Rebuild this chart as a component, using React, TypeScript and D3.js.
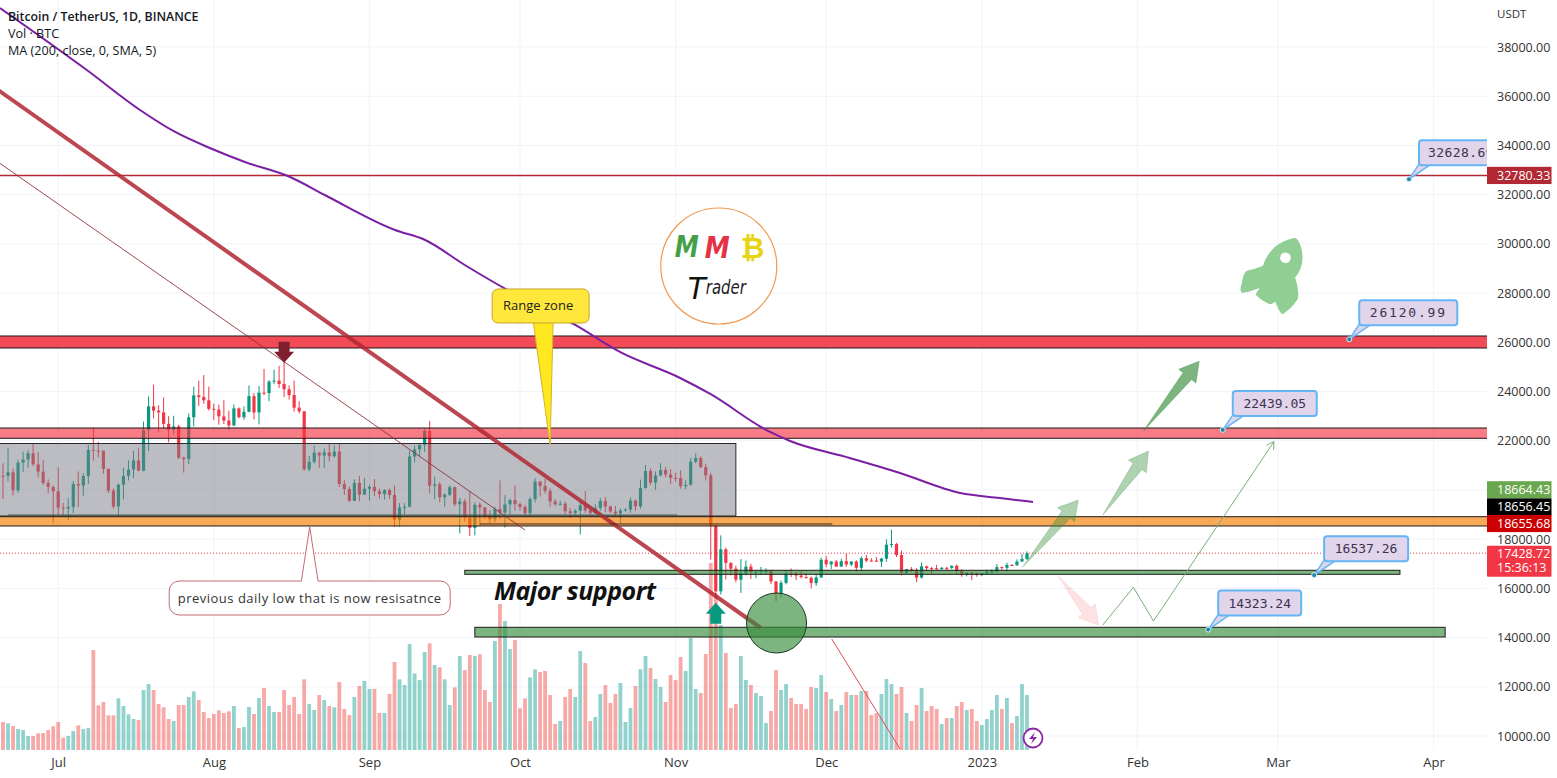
import React, { useEffect, useRef } from 'react';
import * as d3 from 'd3';

// bars are daily, index 0 = 20 Jun 2022, last = 10 Jan 2023
const opens = [
  20574, 20573, 20719, 19988, 21110, 21237, 21491, 21038, 20742, 20281, 20123,
  19942, 19279, 19243, 19315, 20236, 20175, 20564, 21624, 21594, 21592, 20857, 19970, 19329, 20212, 20570, 20825, 21198, 20781, 22432, 23396, 23223, 23152, 22684, 22451, 22579, 21310, 21254, 22952, 23843, 23774, 23643,
  23296, 23266, 22985, 22818, 22622, 23313, 22954, 23175, 23810, 23151, 23954, 23934, 24401, 24443, 24306, 24093, 23857, 23342, 23191, 20834, 21140, 21516, 21400, 21529, 21368, 21560, 20241, 20037, 19555, 20285, 19812,
  20049, 20127, 19953, 19832, 20000, 19796, 18790, 19292, 19320, 21361, 21648, 21826, 22395, 20173, 20227, 19701, 19803, 20112, 19417, 19538, 18875, 18461, 19401, 19288, 18921, 18810, 19226, 19080, 19411, 19590,
  19423, 19310, 19057, 19629, 20337, 20158, 19961, 19530, 19417, 19439, 19131, 19060, 19155, 19375, 19176, 19068, 19262, 19549, 19327, 19123, 19041, 19164, 19204, 19570, 19330, 20080, 20771, 20295, 20591, 20809, 20627,
  20491, 20483, 20151, 20207, 21148, 21299, 20925, 20590, 18541, 15880, 17586, 17034, 16799, 16353, 16618, 16884, 16664, 16680, 16698, 16711, 16280, 15781, 16226, 16603, 16599, 16522, 16458, 16428, 16212, 16442,
  17163, 16977, 17092, 16885, 17105, 16967, 17089, 16836, 17224, 17128, 17127, 17085, 17209, 17775, 17800, 17356, 16632, 16776, 16738, 16438, 16895, 16824, 16821, 16778, 16836, 16832, 16919, 16706, 16547, 16633, 16607,
  16542, 16616, 16673, 16674, 16863, 16836, 16951, 16943, 17091, 17196,
];
const highs = [
  21080, 21723, 20867, 21233, 21558, 21614, 21868, 21539, 21212, 20432, 20179,
  20918, 19471, 19665, 20354, 20750, 20675, 21839, 22527, 21950, 21597, 20868, 20060, 20259, 20900, 21200, 21588, 21684, 22777, 23800, 24276, 23442, 23756, 22998, 23014, 22652, 21347, 23112, 24199, 24442, 24668, 24194,
  23509, 23463, 23648, 23225, 23472, 23354, 23395, 24245, 23933, 24226, 24918, 24456, 24888, 25047, 25214, 24247, 24446, 23600, 23208, 21382, 21800, 21548, 21684, 21900, 21820, 21887, 20402, 20145, 20433, 20575, 20490,
  20208, 20445, 20055, 20029, 20057, 20180, 19464, 19458, 21600, 21810, 21860, 22488, 22799, 20541, 20330, 19870, 20189, 20135, 19686, 19635, 19956, 19500, 19500, 19310, 19180, 19315, 20385, 19790, 19645, 20185,
  19485, 19395, 19719, 20475, 20365, 20456, 20056, 19628, 19559, 19525, 19268, 19214, 19513, 19951, 19227, 19425, 19676, 19706, 19360, 19347, 19250, 19257, 19700, 19601, 20420, 21020, 20873, 20750, 21085, 20931, 20845,
  20700, 20800, 20393, 21302, 21480, 21365, 21069, 20700, 18590, 18154, 17650, 17059, 16920, 17190, 17130, 17000, 16740, 16870, 16820, 16750, 16300, 16315, 16750, 16812, 16666, 16700, 16600, 16482, 16550, 17250,
  17320, 17105, 17159, 17203, 17425, 17107, 17142, 17299, 17360, 17227, 17270, 17241, 17990, 18387, 17850, 17530, 16796, 16864, 16816, 17061, 16918, 16868, 16955, 16860, 16868, 16926, 16970, 16780, 16664, 16677, 16644,
  16628, 16759, 16777, 16991, 16886, 17041, 16982, 17176, 17398, 17500,
];
const lows = [
  19637, 20348, 19770, 19890, 20740, 20906, 20960, 20500, 20202, 19854, 18626,
  18975, 18977, 18781, 19055, 19304, 19761, 20240, 21189, 21322, 20652, 19875, 19240, 18910, 19616, 20383, 20480, 20755, 20762, 21580, 22906, 22341, 22500, 21934, 22257, 21250, 20706, 21042, 22582, 23414, 23502, 23227,
  22850, 22654, 22681, 22435, 22586, 22909, 22857, 23154, 22865, 22664, 23852, 23601, 24296, 24144, 23773, 23671, 23180, 23107, 20783, 20761, 21069, 20890, 20890, 21154, 21310, 20114, 19800, 19520, 19550, 19540, 19797,
  19565, 19750, 19655, 19600, 19635, 18510, 18510, 19011, 19291, 21111, 21360, 21538, 19860, 19617, 19497, 19320, 19748, 19335, 18232, 18711, 18125, 18150, 18531, 18817, 18629, 18680, 18816, 18471, 19015, 19155,
  19160, 18920, 18960, 19485, 19730, 19855, 19320, 19350, 19357, 19020, 18860, 18965, 18190, 19070, 18975, 19063, 19160, 19090, 19060, 18900, 18650, 19112, 19070, 19157, 19243, 20050, 20202, 20000, 20552, 20515, 20237,
  20330, 20048, 20031, 20180, 21080, 20886, 20384, 17166, 15588, 15750, 16361, 16526, 16250, 15815, 16527, 16384, 16410, 16551, 16559, 16170, 15480, 15625, 16160, 16458, 16342, 16400, 16400, 16000, 16100, 16430,
  16855, 16787, 16863, 16878, 16867, 16906, 16678, 16733, 17058, 17092, 17071, 16871, 17080, 17660, 17275, 16527, 16584, 16663, 16256, 16398, 16710, 16560, 16731, 16770, 16720, 16786, 16592, 16470, 16488, 16333, 16470,
  16499, 16548, 16605, 16652, 16759, 16679, 16909, 16908, 17081, 17150,
];
const closes = [
  20573, 20719, 19987, 21110, 21237, 21491, 21038, 20742, 20281, 20123, 19942,
  19279, 19243, 19315, 20236, 20175, 20564, 21624, 21594, 21592, 20857, 19970, 19329, 20212, 20570, 20825, 21198, 20781, 22432, 23396, 23223, 23152, 22684, 22451, 22579, 21310, 21254, 22952, 23843, 23774, 23643, 23293,
  23268, 22987, 22818, 22622, 23312, 22954, 23175, 23810, 23149, 23954, 23934, 24403, 24441, 24305, 24094, 23854, 23342, 23191, 20834, 21140, 21515, 21399, 21529, 21368, 21560, 20241, 20037, 19555, 20285, 19811, 20050,
  20127, 19953, 19832, 20000, 19796, 18790, 19292, 19319, 21360, 21648, 21826, 22395, 20173, 20226, 19701, 19803, 20113, 19416, 19537, 18875, 18461, 19401, 19288, 18920, 18807, 19227, 19079, 19412, 19591, 19422,
  19310, 19056, 19629, 20337, 20158, 19960, 19530, 19417, 19439, 19131, 19060, 19155, 19375, 19176, 19069, 19262, 19549, 19327, 19123, 19041, 19164, 19204, 19570, 19330, 20080, 20771, 20295, 20591, 20809, 20627, 20491,
  20483, 20151, 20207, 21148, 21299, 20925, 20590, 18541, 15880, 17586, 17034, 16799, 16353, 16618, 16884, 16664, 16680, 16698, 16711, 16280, 15781, 16226, 16603, 16599, 16522, 16458, 16428, 16212, 16442, 17163,
  16977, 17092, 16885, 17105, 16967, 17089, 16836, 17224, 17128, 17127, 17085, 17209, 17775, 17800, 17356, 16632, 16776, 16738, 16438, 16895, 16824, 16821, 16778, 16836, 16832, 16919, 16706, 16547, 16633, 16607, 16542,
  16616, 16673, 16674, 16863, 16836, 16951, 16943, 17091, 17196, 17429,
];
const volumes = [
  84, 80, 72, 63, 60, 42, 42, 50, 51, 60, 71,
  84, 37, 42, 57, 74, 63, 66, 300, 134, 144, 104, 104, 155, 132, 107, 93, 90, 180, 198, 180, 138, 128, 93, 87, 135, 135, 159, 176, 150, 114, 96,
  108, 119, 111, 116, 132, 66, 69, 129, 108, 156, 186, 132, 114, 114, 180, 135, 159, 108, 212, 138, 120, 165, 150, 132, 128, 204, 123, 105, 159, 192, 207,
  183, 183, 111, 111, 168, 264, 212, 195, 318, 230, 210, 294, 320, 255, 248, 212, 135, 188, 282, 240, 285, 282, 287, 180, 144, 327, 438, 387, 303, 330,
  125, 155, 218, 242, 234, 237, 165, 78, 87, 159, 183, 159, 297, 261, 87, 99, 168, 195, 141, 168, 201, 84, 126, 192, 242, 282, 246, 213, 189, 144, 225,
  210, 279, 237, 336, 183, 171, 288, 561, 470, 375, 291, 126, 138, 282, 210, 195, 171, 162, 81, 117, 240, 180, 198, 156, 138, 138, 123, 189, 186, 225,
  174, 153, 117, 135, 174, 165, 165, 177, 177, 105, 111, 168, 213, 198, 168, 189, 111, 87, 135, 186, 117, 132, 123, 78, 96, 96, 132, 144, 120, 123, 87,
  75, 93, 120, 165, 123, 156, 81, 102, 198, 165,
];

const gridPrices = [10000, 12000, 14000, 16000, 18000, 20000, 22000, 24000, 26000, 28000, 30000, 32000, 34000, 36000, 38000];
// 20000 sits under the stacked price labels, so it gets a grid line but no label
const priceTicks = [10000, 12000, 14000, 16000, 18000, 22000, 24000, 26000, 28000, 30000, 32000, 34000, 36000, 38000];
const monthTicks = [11, 42, 73, 103, 134, 164, 195, 226, 254, 285];
const monthLabels = ['Jul', 'Aug', 'Sep', 'Oct', 'Nov', 'Dec', '2023', 'Feb', 'Mar', 'Apr'];

// MA 200: [bar, price]
const maPoints: [number, number][] = [
  [-0.6, 39586], [16.7, 37066], [27.3, 35441], [34.3, 34547], [41.2, 33896], [48.2, 33327],
  [57.2, 32718], [64.1, 31986], [78.1, 30564], [84.1, 30157], [92, 29141], [103, 27841],
  [114, 26703], [122.9, 25606], [134.9, 24549], [140.9, 23899], [152.8, 22355], [156.8, 21989],
  [168.7, 21298], [178.7, 20688], [190.7, 19876], [198.6, 19672], [205.2, 19510],
];

// zones: from bar, to bar, top price, bottom price, colour, opacity
const zones: [number, number, number, number, string, number][] = [
  [-1, 300, 26256, 25768, '#f23645', 0.9],
  [-1, 300, 22517, 22098, '#f23645', 0.65],
  [-1, 300, 18912, 18535, '#f57c00', 0.65],
  [92, 278.3, 16734, 16571, '#388e3c', 0.65],
  [94, 287.3, 14418, 14023, '#388e3c', 0.65],
];

const grayBox = [-1, 146, 21887, 18941];
const resistance = 32780.33;

// trend lines: [bar, price, bar, price, colour, width, opacity]
const lines: [number, number, number, number, string, number, number][] = [
  [-1, 36253, 151, 14389, '#b22833', 4, 0.85],
  [-1, 33327, 104, 18372, '#8e2a33', 1, 0.85],
  [165.1, 13942, 178.7, 9472, '#e04a5a', 1, 1],
  [1, 18981, 134.3, 18981, '#4a5a4c', 1, 1],
  [95, 18616, 165.2, 18616, '#3a2a20', 1, 1],
];

// arrows: tail bar, tail price, tip bar, tip price, colour, opacity
const arrows: [number, number, number, number, string, number][] = [
  [203.1, 16856, 214.2, 19591, '#388e3c', 0.4],
  [219.1, 18981, 228.2, 21582, '#388e3c', 0.4],
  [227.2, 22395, 238.3, 25228, '#388e3c', 0.65],
  [210.2, 16502, 218.3, 14499, '#f23645', 0.15],
];

const pathPoints: [number, number][] = [[219.1, 14511], [225.2, 16043], [229.2, 14674], [253.2, 21960]];

// price callouts: anchor bar, price shown
const calloutBars = [280.1, 268.2, 243, 261.2, 240.1];
const calloutPrices = [32628.69, 26120.99, 22439.05, 16537.26, 14323.24];
const calloutWidths = [84, 98, 84, 84, 83];
const calloutSpacing = [0.4, 1.8, 0, 0, 0];

// labels on the price axis: value, offset from its price, fill
const axisLabels: [number, number, string][] = [
  [32780.33, 0, '#b22833'],
  [18664.43, -33, '#6aa84f'],
  [18656.45, -16, '#000000'],
  [18655.68, 0.5, '#cc0000'],
];
const lastPrice = 17428.72;
const countdown = '15:36:13';

const legend = ['Bitcoin / TetherUS, 1D, BINANCE', 'Vol · BTC', 'MA (200, close, 0, SMA, 5)'];

const W = 1557;
const H = 778;
const plotRight = 1487;
const volBase = 750;
const font = '"Open Sans", sans-serif';

const App: React.FC = () => {
  const svgRef = useRef<SVGSVGElement>(null);

  useEffect(() => {
    if (!svgRef.current) return;
    const svg = d3.select(svgRef.current);
    svg.selectAll('*').remove();

    const x = d3.scaleLinear().domain([0, 204]).range([3, 1027]);
    const y = d3.scaleLinear().domain([10000, 38000]).range([736, 47]);
    const yVol = d3.scaleLinear().domain([0, 450]).range([volBase, 600]);

    svg.append('defs').append('clipPath').attr('id', 'plot')
      .append('rect').attr('width', plotRight).attr('height', H);

    const g = svg.append('g').attr('clip-path', 'url(#plot)');

    // Grid
    g.selectAll('.hgrid').data(gridPrices).enter().append('line')
      .attr('x1', 0).attr('x2', plotRight)
      .attr('y1', d => y(d)).attr('y2', d => y(d))
      .attr('stroke', '#f0f3fa');
    g.selectAll('.vgrid').data(monthTicks).enter().append('line')
      .attr('x1', d => x(d)).attr('x2', d => x(d))
      .attr('y1', 0).attr('y2', volBase)
      .attr('stroke', '#f0f3fa');

    const up = (i: number) => closes[i] >= opens[i];

    // Volume
    g.selectAll('.vol').data(volumes).enter().append('rect')
      .attr('x', (_, i) => x(i) - 1.9)
      .attr('width', 3.8)
      .attr('y', d => yVol(d))
      .attr('height', d => volBase - yVol(d))
      .attr('fill', (_, i) => (up(i) ? '#26a69a' : '#ef5350'))
      .attr('opacity', 0.5);

    // Candles
    const candle = g.selectAll('.candle').data(closes).enter().append('g');
    candle.append('line')
      .attr('x1', (_, i) => x(i)).attr('x2', (_, i) => x(i))
      .attr('y1', (_, i) => y(highs[i])).attr('y2', (_, i) => y(lows[i]))
      .attr('stroke', (_, i) => (up(i) ? '#089981' : '#f23645'));
    candle.append('rect')
      .attr('x', (_, i) => x(i) - 1.6)
      .attr('width', 3.2)
      .attr('y', (_, i) => y(Math.max(opens[i], closes[i])))
      .attr('height', (_, i) => Math.max(1, Math.abs(y(opens[i]) - y(closes[i]))))
      .attr('fill', (_, i) => (up(i) ? '#089981' : '#f23645'));

    // Last price dotted line
    g.append('line')
      .attr('x1', 0).attr('x2', plotRight)
      .attr('y1', y(lastPrice)).attr('y2', y(lastPrice))
      .attr('stroke', '#f23645').attr('stroke-dasharray', '1,2');

    // Range box
    g.append('rect')
      .attr('x', x(grayBox[0])).attr('y', y(grayBox[2]))
      .attr('width', x(grayBox[1]) - x(grayBox[0]))
      .attr('height', y(grayBox[3]) - y(grayBox[2]))
      .attr('fill', '#787b86').attr('fill-opacity', 0.5)
      .attr('stroke', '#2a2a2e');

    // Zones
    zones.forEach(([a, b, top, bottom, color, op]) => {
      g.append('rect')
        .attr('x', x(a)).attr('y', y(top))
        .attr('width', x(b) - x(a)).attr('height', y(bottom) - y(top))
        .attr('fill', color).attr('fill-opacity', op)
        .attr('stroke', '#1f1a1a');
    });

    // Resistance line
    g.append('line')
      .attr('x1', 0).attr('x2', plotRight)
      .attr('y1', y(resistance)).attr('y2', y(resistance))
      .attr('stroke', '#b22833').attr('stroke-width', 1.5);

    // MA
    const maLine = d3.line<[number, number]>()
      .x(d => x(d[0])).y(d => y(d[1]))
      .curve(d3.curveMonotoneX);
    g.append('path').datum(maPoints)
      .attr('d', maLine)
      .attr('fill', 'none').attr('stroke', '#7b1fa2').attr('stroke-width', 2);

    // Trend lines
    lines.forEach(([a, p1, b, p2, color, w, op]) => {
      g.append('line')
        .attr('x1', x(a)).attr('y1', y(p1)).attr('x2', x(b)).attr('y2', y(p2))
        .attr('stroke', color).attr('stroke-width', w).attr('opacity', op);
    });

    // Support circle
    g.append('circle')
      .attr('cx', x(154.1)).attr('cy', y(14592)).attr('r', 30)
      .attr('fill', '#388e3c').attr('fill-opacity', 0.65)
      .attr('stroke', '#1b3a1f');

    // Wedge arrows
    arrows.forEach(([a, p1, b, p2, color, op]) => {
      const tx = x(a), ty = y(p1), hx = x(b), hy = y(p2);
      const len = Math.hypot(hx - tx, hy - ty);
      const ux = (hx - tx) / len, uy = (hy - ty) / len;
      const nx = -uy, ny = ux;
      const bx = hx - ux * 19, by = hy - uy * 19;
      const pts: [number, number][] = [
        [tx, ty],
        [bx + nx * 5.5, by + ny * 5.5],
        [bx + nx * 11, by + ny * 11],
        [hx, hy],
        [bx - nx * 11, by - ny * 11],
        [bx - nx * 5.5, by - ny * 5.5],
      ];
      g.append('polygon')
        .attr('points', pts.map(p => p.join(',')).join(' '))
        .attr('fill', color).attr('fill-opacity', op)
        .attr('stroke', color).attr('stroke-opacity', op * 0.6);
    });

    // Thin path with arrow head
    const pathLine = d3.line<[number, number]>().x(d => x(d[0])).y(d => y(d[1]));
    g.append('path').datum(pathPoints)
      .attr('d', pathLine)
      .attr('fill', 'none').attr('stroke', '#7cad7c');
    const end = pathPoints[pathPoints.length - 1];
    const prev = pathPoints[pathPoints.length - 2];
    const ang = Math.atan2(y(end[1]) - y(prev[1]), x(end[0]) - x(prev[0]));
    [-2.6, 2.6].forEach(da => {
      g.append('line')
        .attr('x1', x(end[0])).attr('y1', y(end[1]))
        .attr('x2', x(end[0]) + Math.cos(ang + da) * 8).attr('y2', y(end[1]) + Math.sin(ang + da) * 8)
        .attr('stroke', '#7cad7c');
    });

    // Block arrows (down marker, up marker)
    const blockArrow = (bar: number, price: number, dir: number, color: string) => {
      const bx = x(bar), by = y(price);
      const pts = [
        [0, 0], [10, 11], [5.5, 11], [5.5, 21], [-5.5, 21], [-5.5, 11], [-10, 11],
      ].map(([dx, dy]) => `${bx + dx},${by + dy * dir}`).join(' ');
      g.append('polygon').attr('points', pts).attr('fill', color);
    };
    blockArrow(56, 25171, -1, '#7d1f2e');
    blockArrow(142, 15417, 1, '#089981');

    // Rocket
    const rocket = g.append('g')
      .attr('transform', `translate(${x(252.7)},${y(28662)}) scale(0.3333) translate(-215,-170)`);
    rocket.append('path')
      .attr('d', 'M288,54 C298,60 310,90 308,118 C306,142 298,158 286,172 C294,196 298,222 294,236 C286,252 266,270 250,282 C240,280 234,262 226,244 C222,248 214,254 208,252 C196,246 176,234 168,224 C170,216 176,210 180,204 C160,210 140,220 126,218 C120,214 122,200 126,190 C128,174 132,160 138,154 C152,148 176,144 190,136 C196,116 208,96 226,80 C244,66 268,56 288,54 Z')
      .attr('fill', '#90ce94');
    rocket.append('circle').attr('cx', 257).attr('cy', 113).attr('r', 16).attr('fill', '#fff');

    // Logo
    const lx = x(142.6), ly = y(29101);
    g.append('circle').attr('cx', lx).attr('cy', ly).attr('r', 58)
      .attr('fill', '#fff').attr('stroke', '#ef9a50').attr('stroke-width', 1.2);
    const logoText = (s: string, dx: number, dy: number, size: number, color: string, style: string, weight: string, len?: number) => {
      const t = g.append('text').attr('x', lx + dx).attr('y', ly + dy)
        .attr('font-family', '"DejaVu Sans", sans-serif')
        .attr('font-size', size).attr('font-style', style).attr('font-weight', weight)
        .attr('fill', color).text(s);
      if (len) t.attr('textLength', len).attr('lengthAdjust', 'spacingAndGlyphs');
    };
    logoText('M', -44, -9, 30, '#43a047', 'italic', 'bold', 24);
    logoText('M', -14, -8, 30, '#e53245', 'italic', 'bold', 25);
    logoText('₿', 22, -8, 29, '#e6d514', 'normal', 'bold');
    logoText('T', -31, 33, 31, '#111', 'italic', 'normal', 18);
    logoText('rader', -13, 28, 19, '#222', 'italic', 'normal', 40);

    // Major support
    g.append('text')
      .attr('x', x(97.8)).attr('y', y(15527))
      .attr('font-family', font)
      .attr('font-size', 25).attr('font-weight', 'bold').attr('font-style', 'italic')
      .attr('fill', '#111').attr('textLength', 162).text('Major support');

    // Yellow callout
    const rx = x(109), ry = y(21826);
    g.append('path')
      .attr('d', `M${rx - 17},${ry - 124} L${rx},${ry} L${rx + 3},${ry - 124} Z`)
      .attr('fill', '#ffe81f').attr('stroke', '#d0b428');
    g.append('rect')
      .attr('x', rx - 58).attr('y', ry - 156).attr('width', 97).attr('height', 34).attr('rx', 6)
      .attr('fill', '#ffe83b').attr('stroke', '#c9a227');
    g.append('text')
      .attr('x', rx - 12).attr('y', ry - 135)
      .attr('text-anchor', 'middle').attr('font-family', font).attr('font-size', 13)
      .attr('fill', '#222').text('Range zone');

    // White callout
    const wx = x(61.1), wy = y(18493);
    g.append('path')
      .attr('d', `M${wx - 8.5},${wy + 55} L${wx},${wy} L${wx + 8.5},${wy + 55}`)
      .attr('fill', '#fff').attr('stroke', '#c46a72');
    g.append('rect')
      .attr('x', wx - 140.5).attr('y', wy + 54).attr('width', 281).attr('height', 34).attr('rx', 10)
      .attr('fill', '#fff').attr('stroke', '#c46a72');
    g.append('rect')
      .attr('x', wx - 8).attr('y', wy + 53).attr('width', 16).attr('height', 2).attr('fill', '#fff');
    g.append('text')
      .attr('x', wx).attr('y', wy + 75.5)
      .attr('text-anchor', 'middle').attr('font-family', font).attr('font-size', 13)
      .attr('letter-spacing', 0.5).attr('fill', '#333').text('previous daily low that is now resisatnce');

    // Price callouts
    calloutPrices.forEach((p, i) => {
      const ax = x(calloutBars[i]), ay = y(p);
      const w = calloutWidths[i];
      g.append('path')
        .attr('d', `M${ax},${ay} L${ax + 10},${ay - 15} L${ax + 22},${ay - 15} Z`)
        .attr('fill', '#e1d5ec').attr('stroke', '#64b5f6').attr('stroke-width', 1.5);
      g.append('rect')
        .attr('x', ax + 10).attr('y', ay - 39).attr('width', w).attr('height', 25).attr('rx', 3)
        .attr('fill', '#e1d5ec').attr('stroke', '#64b5f6').attr('stroke-width', 2);
      g.append('text')
        .attr('x', ax + 10 + w / 2).attr('y', ay - 22)
        .attr('text-anchor', 'middle')
        .attr('font-family', '"DejaVu Sans Mono", monospace').attr('font-size', 13)
        .attr('letter-spacing', calloutSpacing[i])
        .attr('fill', '#40324f').text(p.toFixed(2));
      g.append('circle').attr('cx', ax).attr('cy', ay).attr('r', 2.5)
        .attr('fill', '#1e88a8').attr('stroke', '#d8eefc');
    });

    // Lightning badge
    const bx = x(205.2), by = y(9919);
    g.append('circle').attr('cx', bx).attr('cy', by).attr('r', 9.5)
      .attr('fill', '#fff').attr('stroke', '#8e24aa').attr('stroke-width', 1.8);
    g.append('path')
      .attr('d', `M${bx + 2},${by - 6} L${bx - 4},${by + 1} L${bx},${by + 1} L${bx - 2},${by + 6} L${bx + 4},${by - 1} L${bx},${by - 1} Z`)
      .attr('fill', '#8e24aa');

    // Legend
    legend.forEach((s, i) => {
      svg.append('text')
        .attr('x', 8).attr('y', 21 + i * 17)
        .attr('font-family', font).attr('font-size', i === 0 ? 12.3 : 12.6)
        .attr('font-weight', i === 0 ? 600 : 400)
        .attr('fill', '#131722').text(s);
    });

    // Axes
    const yAxis = svg.append('g')
      .attr('transform', `translate(${plotRight},0)`)
      .call(d3.axisRight(y).tickValues(priceTicks).tickSize(0).tickPadding(10).tickFormat(d => (d as number).toFixed(2)));
    yAxis.select('.domain').remove();
    yAxis.selectAll('text').style('font-size', '12.5px').style('font-family', font).style('fill', '#333');

    const xAxis = svg.append('g')
      .attr('transform', `translate(0,${volBase + 2})`)
      .call(d3.axisBottom(x).tickValues(monthTicks).tickSize(0).tickPadding(6).tickFormat((_, i) => monthLabels[i]));
    xAxis.select('.domain').remove();
    xAxis.selectAll('text').style('font-size', '13px').style('font-family', font).style('fill', '#333');

    svg.append('text')
      .attr('x', plotRight + 10).attr('y', 18)
      .attr('font-family', font).attr('font-size', 11.5).attr('fill', '#333').text('USDT');

    // Axis labels
    axisLabels.forEach(([v, off, fill]) => {
      const cy = y(v) + off;
      svg.append('rect')
        .attr('x', plotRight).attr('y', cy - 8.6).attr('width', 64.5).attr('height', 17.2)
        .attr('fill', fill);
      svg.append('text')
        .attr('x', plotRight + 10).attr('y', cy + 4.5)
        .attr('font-family', font).attr('font-size', 12.5).attr('fill', '#fff').text(v.toFixed(2));
    });
    const ly2 = y(lastPrice);
    svg.append('rect')
      .attr('x', plotRight).attr('y', ly2 - 7.5).attr('width', 64.5).attr('height', 31).attr('rx', 1)
      .attr('fill', '#f23645');
    svg.append('text')
      .attr('x', plotRight + 10).attr('y', ly2 + 4.5)
      .attr('font-family', font).attr('font-size', 12.5).attr('fill', '#fff').text(lastPrice.toFixed(2));
    svg.append('text')
      .attr('x', plotRight + 10).attr('y', ly2 + 19)
      .attr('font-family', font).attr('font-size', 12.5).attr('fill', '#fff').text(countdown);
  }, []);

  return (
    <svg
      ref={svgRef}
      width={W}
      height={H}
      style={{ position: 'absolute', left: 0, top: 0, background: '#fff', display: 'block' }}
    />
  );
};

export default App;
